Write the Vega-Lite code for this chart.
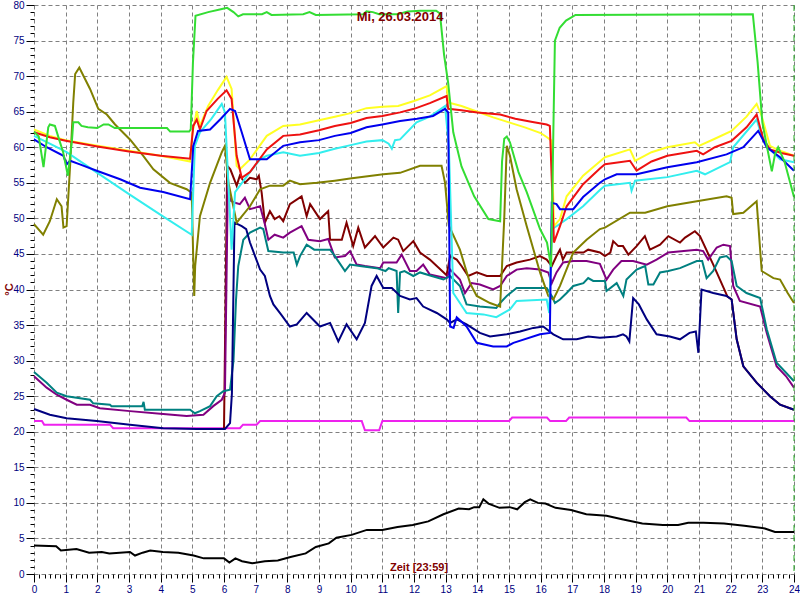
{
"$schema":"https://vega.github.io/schema/vega-lite/v6.json",
"width":760,"height":569,
"autosize":{"type":"none"},
"padding":{"left":34,"top":5,"right":6,"bottom":26},
"background":"#ffffff",
"config":{"view":{"stroke":null},"axis":{"labelFont":"Liberation Sans","labelFontSize":10,"labelColor":"#000080","tickColor":"#000000","gridColor":"#808080","gridDash":[4,3],"gridWidth":1,"domain":false,"labelOverlap":false,"labelFlush":false}},
"datasets":{
"lines":[
{"s":"k","t":0,"v":4.0},{"s":"k","t":0.7,"v":3.9},{"s":"k","t":0.85,"v":3.3},{"s":"k","t":1.34,"v":3.5},{"s":"k","t":1.74,"v":3.0},{"s":"k","t":2.14,"v":3.1},{"s":"k","t":2.38,"v":2.9},{"s":"k","t":3.03,"v":3.1},{"s":"k","t":3.19,"v":2.6},{"s":"k","t":3.43,"v":3.0},{"s":"k","t":3.67,"v":3.3},{"s":"k","t":4.07,"v":3.1},{"s":"k","t":4.56,"v":3.0},{"s":"k","t":5.04,"v":2.6},{"s":"k","t":5.36,"v":2.2},{"s":"k","t":5.68,"v":2.2},{"s":"k","t":6.0,"v":2.2},{"s":"k","t":6.17,"v":1.6},{"s":"k","t":6.36,"v":2.2},{"s":"k","t":6.57,"v":1.8},{"s":"k","t":6.89,"v":1.5},{"s":"k","t":7.29,"v":1.8},{"s":"k","t":7.7,"v":1.9},{"s":"k","t":8.1,"v":2.4},{"s":"k","t":8.58,"v":2.9},{"s":"k","t":8.9,"v":3.8},{"s":"k","t":9.31,"v":4.3},{"s":"k","t":9.55,"v":5.1},{"s":"k","t":10.03,"v":5.5},{"s":"k","t":10.51,"v":6.2},{"s":"k","t":11.0,"v":6.2},{"s":"k","t":11.48,"v":6.6},{"s":"k","t":11.96,"v":6.9},{"s":"k","t":12.45,"v":7.4},{"s":"k","t":12.93,"v":8.4},{"s":"k","t":13.41,"v":9.2},{"s":"k","t":13.74,"v":9.1},{"s":"k","t":13.9,"v":9.4},{"s":"k","t":14.06,"v":9.4},{"s":"k","t":14.19,"v":10.5},{"s":"k","t":14.35,"v":9.9},{"s":"k","t":14.7,"v":9.3},{"s":"k","t":15.02,"v":9.4},{"s":"k","t":15.26,"v":9.1},{"s":"k","t":15.5,"v":10.1},{"s":"k","t":15.67,"v":10.5},{"s":"k","t":15.91,"v":10.0},{"s":"k","t":16.15,"v":9.9},{"s":"k","t":16.47,"v":9.3},{"s":"k","t":16.96,"v":9.0},{"s":"k","t":17.44,"v":8.4},{"s":"k","t":18.08,"v":8.2},{"s":"k","t":18.57,"v":7.7},{"s":"k","t":19.21,"v":7.1},{"s":"k","t":19.86,"v":6.9},{"s":"k","t":20.34,"v":6.9},{"s":"k","t":20.66,"v":7.2},{"s":"k","t":21.14,"v":7.2},{"s":"k","t":21.79,"v":7.1},{"s":"k","t":22.43,"v":6.8},{"s":"k","t":23.08,"v":6.4},{"s":"k","t":23.4,"v":5.9},{"s":"k","t":24,"v":5.9},

{"s":"mg","t":0,"v":21.5},{"s":"mg","t":0.25,"v":21.5},{"s":"mg","t":0.32,"v":21},{"s":"mg","t":2.4,"v":21},{"s":"mg","t":2.5,"v":20.5},{"s":"mg","t":6.5,"v":20.5},{"s":"mg","t":6.6,"v":21},{"s":"mg","t":7.03,"v":21},{"s":"mg","t":7.14,"v":21.5},{"s":"mg","t":10.35,"v":21.5},{"s":"mg","t":10.45,"v":20.2},{"s":"mg","t":10.9,"v":20.2},{"s":"mg","t":11.0,"v":21.5},{"s":"mg","t":15.0,"v":21.5},{"s":"mg","t":15.1,"v":22},{"s":"mg","t":16.2,"v":22},{"s":"mg","t":16.3,"v":21.5},{"s":"mg","t":16.8,"v":21.5},{"s":"mg","t":16.9,"v":22},{"s":"mg","t":20.6,"v":22},{"s":"mg","t":20.7,"v":21.5},{"s":"mg","t":24,"v":21.5},

{"s":"m","t":5.9,"v":20.4},{"s":"m","t":6.0,"v":20.4},{"s":"m","t":6.1,"v":57.4},{"s":"m","t":6.2,"v":56.9},{"s":"m","t":6.4,"v":54.6},{"s":"m","t":6.5,"v":56},{"s":"m","t":6.66,"v":55},{"s":"m","t":6.82,"v":55.7},{"s":"m","t":7.03,"v":55.5},{"s":"m","t":7.1,"v":56},{"s":"m","t":7.19,"v":53.6},{"s":"m","t":7.29,"v":49.4},{"s":"m","t":7.45,"v":51},{"s":"m","t":7.6,"v":49.9},{"s":"m","t":7.75,"v":50.3},{"s":"m","t":7.87,"v":49.6},{"s":"m","t":8.08,"v":52},{"s":"m","t":8.45,"v":53.1},{"s":"m","t":8.61,"v":50.3},{"s":"m","t":8.72,"v":52},{"s":"m","t":9.03,"v":49.9},{"s":"m","t":9.29,"v":51},{"s":"m","t":9.35,"v":47},{"s":"m","t":9.72,"v":47},{"s":"m","t":9.87,"v":49.4},{"s":"m","t":10.08,"v":46.1},{"s":"m","t":10.24,"v":48.7},{"s":"m","t":10.45,"v":45.9},{"s":"m","t":10.77,"v":47.5},{"s":"m","t":11.03,"v":45.9},{"s":"m","t":11.35,"v":47.3},{"s":"m","t":11.5,"v":47},{"s":"m","t":11.66,"v":45.4},{"s":"m","t":11.98,"v":46.8},{"s":"m","t":12.19,"v":45.2},{"s":"m","t":12.5,"v":44.2},{"s":"m","t":13.03,"v":42},{"s":"m","t":13.14,"v":44.7},{"s":"m","t":13.35,"v":44.2},{"s":"m","t":13.5,"v":43.3},{"s":"m","t":13.71,"v":41.9},{"s":"m","t":13.98,"v":42.4},{"s":"m","t":14.3,"v":41.9},{"s":"m","t":14.72,"v":41.9},{"s":"m","t":14.93,"v":43.3},{"s":"m","t":15.24,"v":43.8},{"s":"m","t":15.66,"v":44.2},{"s":"m","t":15.98,"v":44.7},{"s":"m","t":16.19,"v":44.2},{"s":"m","t":16.35,"v":43.3},{"s":"m","t":16.5,"v":44.7},{"s":"m","t":16.61,"v":45.6},{"s":"m","t":16.7,"v":44.2},{"s":"m","t":16.82,"v":45.2},{"s":"m","t":17.35,"v":45.2},{"s":"m","t":17.5,"v":45.6},{"s":"m","t":17.87,"v":45.2},{"s":"m","t":18.03,"v":44.7},{"s":"m","t":18.2,"v":45.2},{"s":"m","t":18.29,"v":46.8},{"s":"m","t":18.45,"v":46.1},{"s":"m","t":18.6,"v":46.1},{"s":"m","t":18.77,"v":44.9},{"s":"m","t":19.03,"v":46.1},{"s":"m","t":19.29,"v":47.5},{"s":"m","t":19.45,"v":45.6},{"s":"m","t":19.77,"v":46.3},{"s":"m","t":20.03,"v":47.5},{"s":"m","t":20.4,"v":46.6},{"s":"m","t":20.56,"v":47.3},{"s":"m","t":20.87,"v":48.2},{"s":"m","t":21.03,"v":47.5},{"s":"m","t":21.45,"v":43.5},{"s":"m","t":21.9,"v":39},{"s":"m","t":22.03,"v":38.6},{"s":"m","t":22.19,"v":33},{"s":"m","t":22.4,"v":29.2},{"s":"m","t":22.82,"v":26.9},{"s":"m","t":23.24,"v":25},{"s":"m","t":23.56,"v":23.8},{"s":"m","t":24,"v":23.1},

{"s":"p","t":0,"v":27.8},{"s":"p","t":0.4,"v":26.2},{"s":"p","t":0.72,"v":25.2},{"s":"p","t":1.03,"v":24.5},{"s":"p","t":1.35,"v":23.8},{"s":"p","t":1.77,"v":23.8},{"s":"p","t":2.08,"v":23.3},{"s":"p","t":3.03,"v":22.9},{"s":"p","t":4.08,"v":22.5},{"s":"p","t":4.82,"v":22.2},{"s":"p","t":5.35,"v":22.4},{"s":"p","t":5.66,"v":23.6},{"s":"p","t":5.93,"v":24.5},{"s":"p","t":6.03,"v":25.5},{"s":"p","t":6.12,"v":54.5},{"s":"p","t":6.2,"v":52.5},{"s":"p","t":6.35,"v":52.2},{"s":"p","t":6.5,"v":52},{"s":"p","t":6.66,"v":52.9},{"s":"p","t":6.82,"v":51.3},{"s":"p","t":7.14,"v":51.7},{"s":"p","t":7.29,"v":49.2},{"s":"p","t":7.4,"v":47},{"s":"p","t":7.6,"v":47.7},{"s":"p","t":7.87,"v":47.3},{"s":"p","t":8.08,"v":48},{"s":"p","t":8.45,"v":48.9},{"s":"p","t":8.66,"v":47},{"s":"p","t":9.03,"v":46.8},{"s":"p","t":9.29,"v":47.1},{"s":"p","t":9.5,"v":44.5},{"s":"p","t":9.82,"v":44.7},{"s":"p","t":9.98,"v":45.4},{"s":"p","t":10.19,"v":43.5},{"s":"p","t":10.45,"v":43.3},{"s":"p","t":10.93,"v":43},{"s":"p","t":11.03,"v":43.8},{"s":"p","t":11.45,"v":43.8},{"s":"p","t":11.61,"v":44.9},{"s":"p","t":11.87,"v":42.6},{"s":"p","t":12.08,"v":42.6},{"s":"p","t":12.29,"v":43.5},{"s":"p","t":12.5,"v":42.1},{"s":"p","t":13.03,"v":41.6},{"s":"p","t":13.14,"v":42.8},{"s":"p","t":13.45,"v":41.4},{"s":"p","t":13.61,"v":39.5},{"s":"p","t":13.82,"v":40.9},{"s":"p","t":14.08,"v":40.7},{"s":"p","t":14.5,"v":40},{"s":"p","t":14.72,"v":40.5},{"s":"p","t":14.93,"v":41.9},{"s":"p","t":15.24,"v":42.8},{"s":"p","t":15.56,"v":43},{"s":"p","t":15.98,"v":42.8},{"s":"p","t":16.24,"v":42.4},{"s":"p","t":16.35,"v":40.9},{"s":"p","t":16.5,"v":42.4},{"s":"p","t":16.71,"v":43.8},{"s":"p","t":17.03,"v":44},{"s":"p","t":17.45,"v":44},{"s":"p","t":17.87,"v":43.6},{"s":"p","t":18.08,"v":41.4},{"s":"p","t":18.29,"v":42.8},{"s":"p","t":18.55,"v":44},{"s":"p","t":18.92,"v":44},{"s":"p","t":19.35,"v":43.5},{"s":"p","t":19.66,"v":44.2},{"s":"p","t":20.03,"v":45.2},{"s":"p","t":20.93,"v":45.6},{"s":"p","t":21.13,"v":45.4},{"s":"p","t":21.29,"v":44.2},{"s":"p","t":21.56,"v":45.9},{"s":"p","t":21.77,"v":46.3},{"s":"p","t":21.98,"v":46.1},{"s":"p","t":22.08,"v":40.5},{"s":"p","t":22.29,"v":38.4},{"s":"p","t":22.93,"v":37.6},{"s":"p","t":23.14,"v":33.9},{"s":"p","t":23.45,"v":29.2},{"s":"p","t":23.75,"v":27.8},{"s":"p","t":24,"v":26.2},

{"s":"tl","t":0,"v":28.4},{"s":"tl","t":0.4,"v":26.9},{"s":"tl","t":0.72,"v":25.5},{"s":"tl","t":1.03,"v":25},{"s":"tl","t":1.77,"v":24.5},{"s":"tl","t":1.87,"v":24},{"s":"tl","t":2.4,"v":23.8},{"s":"tl","t":2.45,"v":23.6},{"s":"tl","t":3.42,"v":23.6},{"s":"tl","t":3.46,"v":24.2},{"s":"tl","t":3.5,"v":23.1},{"s":"tl","t":4.93,"v":23.1},{"s":"tl","t":5.08,"v":22.6},{"s":"tl","t":5.24,"v":22.9},{"s":"tl","t":5.56,"v":23.6},{"s":"tl","t":5.77,"v":25},{"s":"tl","t":5.98,"v":25.7},{"s":"tl","t":6.19,"v":25.9},{"s":"tl","t":6.3,"v":30},{"s":"tl","t":6.38,"v":38.6},{"s":"tl","t":6.45,"v":43.3},{"s":"tl","t":6.61,"v":47},{"s":"tl","t":6.82,"v":48},{"s":"tl","t":7.14,"v":48.7},{"s":"tl","t":7.24,"v":48.5},{"s":"tl","t":7.4,"v":45.4},{"s":"tl","t":7.87,"v":45.2},{"s":"tl","t":8.2,"v":45.2},{"s":"tl","t":8.3,"v":43.5},{"s":"tl","t":8.4,"v":44.7},{"s":"tl","t":8.61,"v":46.3},{"s":"tl","t":8.85,"v":45.6},{"s":"tl","t":9.35,"v":45.6},{"s":"tl","t":9.5,"v":44.7},{"s":"tl","t":9.82,"v":42.6},{"s":"tl","t":9.98,"v":43.5},{"s":"tl","t":10.29,"v":43.3},{"s":"tl","t":10.82,"v":43},{"s":"tl","t":11.1,"v":42.6},{"s":"tl","t":11.2,"v":43},{"s":"tl","t":11.45,"v":42.6},{"s":"tl","t":11.5,"v":36.7},{"s":"tl","t":11.56,"v":42.4},{"s":"tl","t":11.7,"v":42.6},{"s":"tl","t":11.98,"v":41.9},{"s":"tl","t":12.19,"v":42.4},{"s":"tl","t":12.56,"v":41.9},{"s":"tl","t":12.93,"v":41.4},{"s":"tl","t":13.14,"v":41.9},{"s":"tl","t":13.45,"v":40.5},{"s":"tl","t":13.66,"v":37.9},{"s":"tl","t":14.08,"v":37.6},{"s":"tl","t":14.6,"v":37.4},{"s":"tl","t":14.72,"v":38.1},{"s":"tl","t":14.93,"v":39.1},{"s":"tl","t":15.24,"v":40.2},{"s":"tl","t":16.19,"v":40.2},{"s":"tl","t":16.35,"v":39.1},{"s":"tl","t":16.45,"v":38.1},{"s":"tl","t":16.61,"v":38.6},{"s":"tl","t":16.82,"v":39.5},{"s":"tl","t":17.03,"v":40.5},{"s":"tl","t":17.35,"v":40.9},{"s":"tl","t":17.5,"v":41.6},{"s":"tl","t":17.66,"v":41.2},{"s":"tl","t":18.03,"v":41.2},{"s":"tl","t":18.08,"v":39.8},{"s":"tl","t":18.4,"v":40.9},{"s":"tl","t":18.61,"v":39.1},{"s":"tl","t":18.71,"v":41.4},{"s":"tl","t":19.03,"v":42.8},{"s":"tl","t":19.3,"v":43.3},{"s":"tl","t":19.4,"v":40.7},{"s":"tl","t":19.56,"v":40.7},{"s":"tl","t":19.77,"v":42.4},{"s":"tl","t":20.03,"v":42.6},{"s":"tl","t":20.4,"v":43},{"s":"tl","t":20.93,"v":44},{"s":"tl","t":21.1,"v":44},{"s":"tl","t":21.24,"v":41.6},{"s":"tl","t":21.45,"v":42.6},{"s":"tl","t":21.66,"v":44.5},{"s":"tl","t":21.87,"v":44.7},{"s":"tl","t":22.03,"v":44},{"s":"tl","t":22.19,"v":40.5},{"s":"tl","t":22.5,"v":39.5},{"s":"tl","t":22.93,"v":38.8},{"s":"tl","t":23.14,"v":34.4},{"s":"tl","t":23.45,"v":29.7},{"s":"tl","t":23.75,"v":28.3},{"s":"tl","t":24,"v":27.1},

{"s":"n","t":0,"v":23.2},{"s":"n","t":0.5,"v":22.4},{"s":"n","t":1.03,"v":21.9},{"s":"n","t":1.98,"v":21.5},{"s":"n","t":3.03,"v":21},{"s":"n","t":4.08,"v":20.5},{"s":"n","t":5.14,"v":20.4},{"s":"n","t":6.03,"v":20.4},{"s":"n","t":6.19,"v":21.2},{"s":"n","t":6.25,"v":25.4},{"s":"n","t":6.33,"v":49.4},{"s":"n","t":6.56,"v":48.9},{"s":"n","t":6.7,"v":48.5},{"s":"n","t":6.82,"v":46.6},{"s":"n","t":7.14,"v":42.8},{"s":"n","t":7.29,"v":41.9},{"s":"n","t":7.45,"v":39.1},{"s":"n","t":7.56,"v":37.9},{"s":"n","t":7.8,"v":36.5},{"s":"n","t":8.08,"v":34.8},{"s":"n","t":8.3,"v":35.1},{"s":"n","t":8.61,"v":36.7},{"s":"n","t":9.03,"v":34.8},{"s":"n","t":9.35,"v":35.3},{"s":"n","t":9.61,"v":32.7},{"s":"n","t":9.87,"v":35.1},{"s":"n","t":10.19,"v":33},{"s":"n","t":10.45,"v":35.3},{"s":"n","t":10.66,"v":40.5},{"s":"n","t":10.82,"v":41.9},{"s":"n","t":11.03,"v":40.2},{"s":"n","t":11.3,"v":40.2},{"s":"n","t":11.56,"v":39.1},{"s":"n","t":11.87,"v":38.6},{"s":"n","t":12.08,"v":38.8},{"s":"n","t":12.29,"v":37.6},{"s":"n","t":12.72,"v":36.7},{"s":"n","t":13.03,"v":35.8},{"s":"n","t":13.14,"v":35.3},{"s":"n","t":13.35,"v":35.8},{"s":"n","t":13.66,"v":35.1},{"s":"n","t":14.08,"v":33.9},{"s":"n","t":14.4,"v":33.4},{"s":"n","t":14.93,"v":33.7},{"s":"n","t":15.35,"v":34.1},{"s":"n","t":15.77,"v":34.6},{"s":"n","t":16.08,"v":34.8},{"s":"n","t":16.4,"v":33.7},{"s":"n","t":16.71,"v":33},{"s":"n","t":17.14,"v":33},{"s":"n","t":17.5,"v":33.4},{"s":"n","t":17.87,"v":33.2},{"s":"n","t":18.4,"v":33.4},{"s":"n","t":18.6,"v":33.7},{"s":"n","t":18.71,"v":33.4},{"s":"n","t":18.8,"v":32.7},{"s":"n","t":18.92,"v":38.8},{"s":"n","t":19.1,"v":37.9},{"s":"n","t":19.35,"v":35.8},{"s":"n","t":19.66,"v":33.7},{"s":"n","t":20.08,"v":33.4},{"s":"n","t":20.4,"v":33},{"s":"n","t":20.7,"v":33.9},{"s":"n","t":20.9,"v":34.1},{"s":"n","t":20.98,"v":31.1},{"s":"n","t":21.08,"v":40},{"s":"n","t":21.45,"v":39.5},{"s":"n","t":21.87,"v":39.1},{"s":"n","t":22.03,"v":38.6},{"s":"n","t":22.19,"v":33},{"s":"n","t":22.4,"v":29.2},{"s":"n","t":22.82,"v":26.9},{"s":"n","t":23.24,"v":25},{"s":"n","t":23.56,"v":23.8},{"s":"n","t":24,"v":23.1},

{"s":"o","t":0,"v":49.2},{"s":"o","t":0.29,"v":47.7},{"s":"o","t":0.5,"v":49.6},{"s":"o","t":0.72,"v":52.7},{"s":"o","t":0.87,"v":51.7},{"s":"o","t":0.93,"v":48.7},{"s":"o","t":1.03,"v":48.9},{"s":"o","t":1.14,"v":57.4},{"s":"o","t":1.24,"v":66.3},{"s":"o","t":1.3,"v":70.3},{"s":"o","t":1.43,"v":71.2},{"s":"o","t":1.77,"v":68.2},{"s":"o","t":2.03,"v":65.4},{"s":"o","t":2.3,"v":64.6},{"s":"o","t":2.56,"v":63.2},{"s":"o","t":3.03,"v":61.1},{"s":"o","t":3.45,"v":58.8},{"s":"o","t":3.77,"v":56.9},{"s":"o","t":4.29,"v":55},{"s":"o","t":4.82,"v":54.1},{"s":"o","t":4.98,"v":53.6},{"s":"o","t":5.03,"v":44.2},{"s":"o","t":5.06,"v":39.1},{"s":"o","t":5.09,"v":43.3},{"s":"o","t":5.24,"v":50.3},{"s":"o","t":5.56,"v":55},{"s":"o","t":5.93,"v":59.3},{"s":"o","t":6.03,"v":60.2},{"s":"o","t":6.14,"v":55},{"s":"o","t":6.4,"v":49.4},{"s":"o","t":6.82,"v":51.7},{"s":"o","t":7.14,"v":54.1},{"s":"o","t":7.45,"v":54.6},{"s":"o","t":7.87,"v":54.6},{"s":"o","t":8.08,"v":55.3},{"s":"o","t":8.4,"v":54.8},{"s":"o","t":8.93,"v":55},{"s":"o","t":9.5,"v":55.3},{"s":"o","t":9.98,"v":55.6},{"s":"o","t":11.03,"v":56.2},{"s":"o","t":11.56,"v":56.4},{"s":"o","t":12.19,"v":57.4},{"s":"o","t":12.87,"v":57.4},{"s":"o","t":12.98,"v":55},{"s":"o","t":13.1,"v":49},{"s":"o","t":13.45,"v":45.6},{"s":"o","t":13.77,"v":40.9},{"s":"o","t":13.98,"v":39.1},{"s":"o","t":14.4,"v":38.1},{"s":"o","t":14.72,"v":37.6},{"s":"o","t":14.85,"v":50},{"s":"o","t":14.93,"v":60.2},{"s":"o","t":15.03,"v":58.8},{"s":"o","t":15.24,"v":54.1},{"s":"o","t":15.56,"v":48.9},{"s":"o","t":15.98,"v":42.4},{"s":"o","t":16.24,"v":39.1},{"s":"o","t":16.4,"v":38.6},{"s":"o","t":16.61,"v":40.5},{"s":"o","t":17.03,"v":45.2},{"s":"o","t":17.45,"v":47},{"s":"o","t":17.87,"v":48.5},{"s":"o","t":18.03,"v":48.7},{"s":"o","t":18.82,"v":50.8},{"s":"o","t":19.3,"v":50.8},{"s":"o","t":20.0,"v":51.7},{"s":"o","t":20.93,"v":52.4},{"s":"o","t":21.87,"v":53.1},{"s":"o","t":22.03,"v":52.9},{"s":"o","t":22.08,"v":50.6},{"s":"o","t":22.4,"v":50.8},{"s":"o","t":22.82,"v":52.4},{"s":"o","t":22.98,"v":42.6},{"s":"o","t":23.35,"v":41.6},{"s":"o","t":23.56,"v":41.4},{"s":"o","t":23.8,"v":39.5},{"s":"o","t":24,"v":38.1},

{"s":"c","t":0,"v":61.6},{"s":"c","t":0.5,"v":60.5},{"s":"c","t":1.03,"v":59.3},{"s":"c","t":2,"v":56.4},{"s":"c","t":3,"v":53.4},{"s":"c","t":4,"v":50.5},{"s":"c","t":4.98,"v":47.7},{"s":"c","t":5.08,"v":60.2},{"s":"c","t":5.24,"v":62.1},{"s":"c","t":5.6,"v":64},{"s":"c","t":5.93,"v":66.1},{"s":"c","t":6.03,"v":64.9},{"s":"c","t":6.24,"v":45.6},{"s":"c","t":6.35,"v":53.7},{"s":"c","t":6.82,"v":56.5},{"s":"c","t":7.14,"v":58.3},{"s":"c","t":7.35,"v":58.8},{"s":"c","t":7.87,"v":59.3},{"s":"c","t":8.4,"v":58.8},{"s":"c","t":9,"v":59.2},{"s":"c","t":9.5,"v":59.8},{"s":"c","t":10,"v":60.3},{"s":"c","t":10.5,"v":60.8},{"s":"c","t":11.0,"v":61},{"s":"c","t":11.2,"v":60.5},{"s":"c","t":11.3,"v":59.8},{"s":"c","t":11.4,"v":61},{"s":"c","t":11.56,"v":61.1},{"s":"c","t":12.08,"v":63.5},{"s":"c","t":12.5,"v":64.3},{"s":"c","t":12.98,"v":65.8},{"s":"c","t":13.1,"v":60.2},{"s":"c","t":13.24,"v":39.5},{"s":"c","t":13.66,"v":36.7},{"s":"c","t":14.19,"v":36.5},{"s":"c","t":14.6,"v":36.1},{"s":"c","t":15.03,"v":37.2},{"s":"c","t":15.24,"v":38.4},{"s":"c","t":16.19,"v":38.6},{"s":"c","t":16.27,"v":36.7},{"s":"c","t":16.35,"v":48.5},{"s":"c","t":16.5,"v":48.9},{"s":"c","t":16.82,"v":49.9},{"s":"c","t":17.34,"v":51.7},{"s":"c","t":17.87,"v":54},{"s":"c","t":18.03,"v":54.6},{"s":"c","t":18.82,"v":55},{"s":"c","t":18.87,"v":53.9},{"s":"c","t":18.98,"v":55.3},{"s":"c","t":20.0,"v":55.8},{"s":"c","t":20.93,"v":56.7},{"s":"c","t":21.19,"v":56.2},{"s":"c","t":21.98,"v":57.9},{"s":"c","t":22.08,"v":60},{"s":"c","t":22.82,"v":63.9},{"s":"c","t":22.98,"v":61.6},{"s":"c","t":23.24,"v":59.7},{"s":"c","t":23.56,"v":58.3},{"s":"c","t":24,"v":57.9},

{"s":"y","t":0,"v":62.5},{"s":"y","t":0.5,"v":61.6},{"s":"y","t":1,"v":61},{"s":"y","t":2,"v":60.2},{"s":"y","t":3,"v":59.5},{"s":"y","t":4,"v":58.8},{"s":"y","t":4.93,"v":58.0},{"s":"y","t":5.0,"v":62},{"s":"y","t":5.14,"v":65.1},{"s":"y","t":5.24,"v":63},{"s":"y","t":5.5,"v":65.8},{"s":"y","t":5.8,"v":68},{"s":"y","t":6.08,"v":69.9},{"s":"y","t":6.24,"v":68.2},{"s":"y","t":6.4,"v":57.4},{"s":"y","t":6.5,"v":56.9},{"s":"y","t":6.82,"v":58.3},{"s":"y","t":7.35,"v":61.6},{"s":"y","t":7.87,"v":63},{"s":"y","t":8.4,"v":63.2},{"s":"y","t":9,"v":63.8},{"s":"y","t":9.5,"v":64.3},{"s":"y","t":10,"v":64.8},{"s":"y","t":10.5,"v":65.5},{"s":"y","t":11,"v":65.7},{"s":"y","t":11.5,"v":65.8},{"s":"y","t":12,"v":66.5},{"s":"y","t":12.5,"v":67.3},{"s":"y","t":13.03,"v":68.6},{"s":"y","t":13.08,"v":66.3},{"s":"y","t":13.5,"v":65.8},{"s":"y","t":14,"v":65},{"s":"y","t":14.5,"v":64.2},{"s":"y","t":15,"v":63.5},{"s":"y","t":15.5,"v":62.8},{"s":"y","t":16.0,"v":62},{"s":"y","t":16.2,"v":61.4},{"s":"y","t":16.35,"v":60.9},{"s":"y","t":16.42,"v":48.9},{"s":"y","t":16.61,"v":49.9},{"s":"y","t":16.82,"v":53.1},{"s":"y","t":17.34,"v":56},{"s":"y","t":17.87,"v":58},{"s":"y","t":18.03,"v":58.6},{"s":"y","t":18.82,"v":59.7},{"s":"y","t":18.98,"v":58.1},{"s":"y","t":19.5,"v":59.3},{"s":"y","t":20.0,"v":60},{"s":"y","t":20.87,"v":60.7},{"s":"y","t":21.0,"v":60.2},{"s":"y","t":21.5,"v":61.2},{"s":"y","t":22.03,"v":62.3},{"s":"y","t":22.5,"v":64.3},{"s":"y","t":22.82,"v":66.1},{"s":"y","t":22.98,"v":64.4},{"s":"y","t":23.24,"v":60.2},{"s":"y","t":23.56,"v":59.5},{"s":"y","t":24,"v":58.8},

{"s":"r","t":0,"v":62.1},{"s":"r","t":0.5,"v":61.4},{"s":"r","t":1,"v":60.9},{"s":"r","t":2,"v":60.1},{"s":"r","t":3,"v":59.4},{"s":"r","t":4,"v":58.8},{"s":"r","t":4.93,"v":58.4},{"s":"r","t":5.03,"v":63},{"s":"r","t":5.14,"v":63.9},{"s":"r","t":5.24,"v":62.5},{"s":"r","t":5.45,"v":65.1},{"s":"r","t":5.8,"v":66.8},{"s":"r","t":6.08,"v":68},{"s":"r","t":6.24,"v":66.8},{"s":"r","t":6.4,"v":58.8},{"s":"r","t":6.56,"v":55.7},{"s":"r","t":6.82,"v":56.5},{"s":"r","t":7.35,"v":59.7},{"s":"r","t":7.87,"v":61.6},{"s":"r","t":8.4,"v":61.8},{"s":"r","t":9,"v":62.4},{"s":"r","t":9.5,"v":63},{"s":"r","t":10,"v":63.4},{"s":"r","t":10.5,"v":64.1},{"s":"r","t":11,"v":64.4},{"s":"r","t":11.56,"v":64.9},{"s":"r","t":12,"v":65.4},{"s":"r","t":12.5,"v":66.2},{"s":"r","t":13.03,"v":67.2},{"s":"r","t":13.08,"v":65.4},{"s":"r","t":13.5,"v":65.2},{"s":"r","t":14,"v":64.9},{"s":"r","t":14.72,"v":64.6},{"s":"r","t":15.2,"v":64},{"s":"r","t":15.7,"v":63.6},{"s":"r","t":16.19,"v":63.2},{"s":"r","t":16.29,"v":63},{"s":"r","t":16.42,"v":46.6},{"s":"r","t":16.61,"v":48.9},{"s":"r","t":16.82,"v":51.7},{"s":"r","t":17.34,"v":54.8},{"s":"r","t":17.87,"v":57},{"s":"r","t":18.03,"v":57.6},{"s":"r","t":18.82,"v":58.1},{"s":"r","t":19.03,"v":56.7},{"s":"r","t":19.5,"v":58},{"s":"r","t":20.0,"v":58.8},{"s":"r","t":20.93,"v":59.5},{"s":"r","t":21.13,"v":59},{"s":"r","t":21.5,"v":60},{"s":"r","t":22.03,"v":60.9},{"s":"r","t":22.5,"v":62.8},{"s":"r","t":22.82,"v":64.6},{"s":"r","t":23.03,"v":61.1},{"s":"r","t":23.24,"v":59.7},{"s":"r","t":23.6,"v":59.2},{"s":"r","t":24,"v":58.8},

{"s":"b","t":0,"v":61.1},{"s":"b","t":0.4,"v":60},{"s":"b","t":0.93,"v":58.8},{"s":"b","t":1.03,"v":57.6},{"s":"b","t":1.14,"v":58.1},{"s":"b","t":1.45,"v":57.6},{"s":"b","t":1.98,"v":56.7},{"s":"b","t":2.72,"v":55.5},{"s":"b","t":3.35,"v":54.3},{"s":"b","t":4.08,"v":53.7},{"s":"b","t":4.93,"v":52.7},{"s":"b","t":5.03,"v":60.2},{"s":"b","t":5.18,"v":62.3},{"s":"b","t":5.56,"v":62.5},{"s":"b","t":5.9,"v":64},{"s":"b","t":6.19,"v":65.4},{"s":"b","t":6.35,"v":65.1},{"s":"b","t":6.56,"v":62.1},{"s":"b","t":6.82,"v":58.3},{"s":"b","t":7.35,"v":58.3},{"s":"b","t":7.87,"v":60.2},{"s":"b","t":8.4,"v":60.7},{"s":"b","t":9,"v":61},{"s":"b","t":9.5,"v":61.6},{"s":"b","t":10,"v":62},{"s":"b","t":10.5,"v":62.8},{"s":"b","t":11,"v":63.2},{"s":"b","t":11.56,"v":63.7},{"s":"b","t":12.1,"v":64},{"s":"b","t":12.6,"v":64.4},{"s":"b","t":12.98,"v":65.4},{"s":"b","t":13.08,"v":64.9},{"s":"b","t":13.14,"v":34.8},{"s":"b","t":13.25,"v":34.6},{"s":"b","t":13.35,"v":36.1},{"s":"b","t":13.66,"v":34.8},{"s":"b","t":13.98,"v":32.5},{"s":"b","t":14.5,"v":32},{"s":"b","t":14.93,"v":32},{"s":"b","t":15.14,"v":32.5},{"s":"b","t":15.98,"v":33.7},{"s":"b","t":16.29,"v":33.9},{"s":"b","t":16.35,"v":52.2},{"s":"b","t":16.5,"v":52},{"s":"b","t":16.61,"v":51.3},{"s":"b","t":17.03,"v":51.3},{"s":"b","t":17.34,"v":53},{"s":"b","t":17.87,"v":55},{"s":"b","t":18.03,"v":55.5},{"s":"b","t":18.4,"v":56.2},{"s":"b","t":19.03,"v":56.2},{"s":"b","t":20.0,"v":57.2},{"s":"b","t":20.93,"v":57.9},{"s":"b","t":21.87,"v":59},{"s":"b","t":22.4,"v":60},{"s":"b","t":22.87,"v":62.3},{"s":"b","t":23.14,"v":60},{"s":"b","t":23.56,"v":58.6},{"s":"b","t":24,"v":56.7},

{"s":"g","t":0,"v":62.2},{"s":"g","t":0.15,"v":61.5},{"s":"g","t":0.3,"v":57.2},{"s":"g","t":0.45,"v":62.8},{"s":"g","t":0.5,"v":63.2},{"s":"g","t":0.66,"v":63},{"s":"g","t":0.8,"v":61},{"s":"g","t":0.92,"v":59.3},{"s":"g","t":1.07,"v":56},{"s":"g","t":1.2,"v":61},{"s":"g","t":1.24,"v":63.5},{"s":"g","t":1.4,"v":63.5},{"s":"g","t":1.5,"v":63},{"s":"g","t":1.7,"v":62.8},{"s":"g","t":2.0,"v":62.7},{"s":"g","t":2.2,"v":63.2},{"s":"g","t":2.35,"v":63.2},{"s":"g","t":2.55,"v":62.7},{"s":"g","t":4.2,"v":62.7},{"s":"g","t":4.3,"v":62.2},{"s":"g","t":4.9,"v":62.2},{"s":"g","t":4.95,"v":62.5},{"s":"g","t":5.02,"v":72},{"s":"g","t":5.1,"v":78.5},{"s":"g","t":5.5,"v":79},{"s":"g","t":5.9,"v":79.4},{"s":"g","t":6.1,"v":79.6},{"s":"g","t":6.3,"v":79},{"s":"g","t":6.45,"v":78.4},{"s":"g","t":6.6,"v":78.7},{"s":"g","t":7.2,"v":78.7},{"s":"g","t":7.35,"v":79},{"s":"g","t":7.5,"v":78.6},{"s":"g","t":8.5,"v":78.7},{"s":"g","t":8.7,"v":79},{"s":"g","t":8.9,"v":78.6},{"s":"g","t":10.4,"v":78.7},{"s":"g","t":10.5,"v":79.1},{"s":"g","t":10.7,"v":79},{"s":"g","t":10.9,"v":78.7},{"s":"g","t":11.5,"v":78.7},{"s":"g","t":11.8,"v":79.1},{"s":"g","t":12.2,"v":79.2},{"s":"g","t":12.7,"v":79.2},{"s":"g","t":12.82,"v":78.8},{"s":"g","t":12.95,"v":73},{"s":"g","t":13.08,"v":69},{"s":"g","t":13.24,"v":62.1},{"s":"g","t":13.5,"v":57.3},{"s":"g","t":13.9,"v":53.1},{"s":"g","t":14.35,"v":49.9},{"s":"g","t":14.72,"v":49.6},{"s":"g","t":14.78,"v":58},{"s":"g","t":14.85,"v":61.2},{"s":"g","t":14.93,"v":61.5},{"s":"g","t":15.03,"v":60.7},{"s":"g","t":15.3,"v":56.5},{"s":"g","t":15.56,"v":53.7},{"s":"g","t":15.98,"v":48.5},{"s":"g","t":16.2,"v":46.6},{"s":"g","t":16.33,"v":43.2},{"s":"g","t":16.4,"v":62},{"s":"g","t":16.45,"v":75},{"s":"g","t":16.6,"v":76.8},{"s":"g","t":16.8,"v":77.8},{"s":"g","t":17.1,"v":78.6},{"s":"g","t":22.7,"v":78.7},{"s":"g","t":22.85,"v":72},{"s":"g","t":23.0,"v":63.5},{"s":"g","t":23.15,"v":60},{"s":"g","t":23.3,"v":56.6},{"s":"g","t":23.4,"v":59},{"s":"g","t":23.5,"v":60},{"s":"g","t":23.7,"v":58},{"s":"g","t":24,"v":53}
],
"title1":[{"t":11.56,"v":78.3,"label":"Mi, 26.03.2014"}],
"title2":[{"t":12.16,"v":0.85,"label":"Zeit [23:59]"}],
"now":[{"t":24}]
},
"layer":[
{"data":{"name":"lines"},
 "mark":{"type":"line","strokeWidth":2,"interpolate":"linear"},
 "encoding":{
  "x":{"field":"t","type":"quantitative","scale":{"domain":[0,24],"nice":false,"zero":false},
   "axis":{"title":null,"tickCount":300,
    "values":[0,0.1667,0.3333,0.5,0.6667,0.8333,1,1.1667,1.3333,1.5,1.6667,1.8333,2,2.1667,2.3333,2.5,2.6667,2.8333,3,3.1667,3.3333,3.5,3.6667,3.8333,4,4.1667,4.3333,4.5,4.6667,4.8333,5,5.1667,5.3333,5.5,5.6667,5.8333,6,6.1667,6.3333,6.5,6.6667,6.8333,7,7.1667,7.3333,7.5,7.6667,7.8333,8,8.1667,8.3333,8.5,8.6667,8.8333,9,9.1667,9.3333,9.5,9.6667,9.8333,10,10.1667,10.3333,10.5,10.6667,10.8333,11,11.1667,11.3333,11.5,11.6667,11.8333,12,12.1667,12.3333,12.5,12.6667,12.8333,13,13.1667,13.3333,13.5,13.6667,13.8333,14,14.1667,14.3333,14.5,14.6667,14.8333,15,15.1667,15.3333,15.5,15.6667,15.8333,16,16.1667,16.3333,16.5,16.6667,16.8333,17,17.1667,17.3333,17.5,17.6667,17.8333,18,18.1667,18.3333,18.5,18.6667,18.8333,19,19.1667,19.3333,19.5,19.6667,19.8333,20,20.1667,20.3333,20.5,20.6667,20.8333,21,21.1667,21.3333,21.5,21.6667,21.8333,22,22.1667,22.3333,22.5,22.6667,22.8333,23,23.1667,23.3333,23.5,23.6667,23.8333,24],
    "labelExpr":"abs(datum.value-round(datum.value))<0.01 ? ''+round(datum.value) : ''",
    "tickSize":{"condition":{"test":"abs(datum.value-round(datum.value))<0.01","value":8},"value":4},
    "gridOpacity":{"condition":{"test":"abs(datum.value-round(datum.value))<0.01","value":1},"value":0},
    "labelPadding":2}},
  "y":{"field":"v","type":"quantitative","scale":{"domain":[0,80],"nice":false},
   "axis":{"title":"°C","titleColor":"#800000","titleFont":"Liberation Sans","titleFontSize":11,"titleFontWeight":"bold","titleX":-25,"titleY":284,"titleAngle":270,"titleAlign":"center","titleBaseline":"middle","tickCount":200,
    "values":[0,1,2,3,4,5,6,7,8,9,10,11,12,13,14,15,16,17,18,19,20,21,22,23,24,25,26,27,28,29,30,31,32,33,34,35,36,37,38,39,40,41,42,43,44,45,46,47,48,49,50,51,52,53,54,55,56,57,58,59,60,61,62,63,64,65,66,67,68,69,70,71,72,73,74,75,76,77,78,79,80],
    "labelExpr":"datum.value % 5 === 0 ? ''+round(datum.value) : ''",
    "tickSize":{"condition":{"test":"datum.value % 5 === 0","value":8},"value":4},
    "gridOpacity":{"condition":{"test":"datum.value % 5 === 0","value":1},"value":0},
    "labelPadding":2}},
  "color":{"field":"s","type":"nominal","legend":null,
   "scale":{"domain":["k","mg","m","p","tl","n","o","c","y","r","b","g"],
    "range":["#000000","#ee22ee","#800000","#800080","#008080","#000080","#808000","#33eeee","#ffff22","#ee1111","#0000ee","#33dd33"]}}
 }},
{"data":{"name":"now"},"mark":{"type":"rule","color":"#22aa22","strokeDash":[6,4],"strokeWidth":1},
 "encoding":{"x":{"field":"t","type":"quantitative"}}},
{"data":{"name":"title1"},"mark":{"type":"text","font":"Liberation Sans","fontSize":13,"fontWeight":"bold","color":"#800000","align":"center","baseline":"middle"},
 "encoding":{"x":{"field":"t","type":"quantitative"},"y":{"field":"v","type":"quantitative"},"text":{"field":"label"}}},
{"data":{"name":"title2"},"mark":{"type":"text","font":"Liberation Sans","fontSize":11,"fontWeight":"bold","color":"#800000","align":"center","baseline":"middle"},
 "encoding":{"x":{"field":"t","type":"quantitative"},"y":{"field":"v","type":"quantitative"},"text":{"field":"label"}}}
]
}
